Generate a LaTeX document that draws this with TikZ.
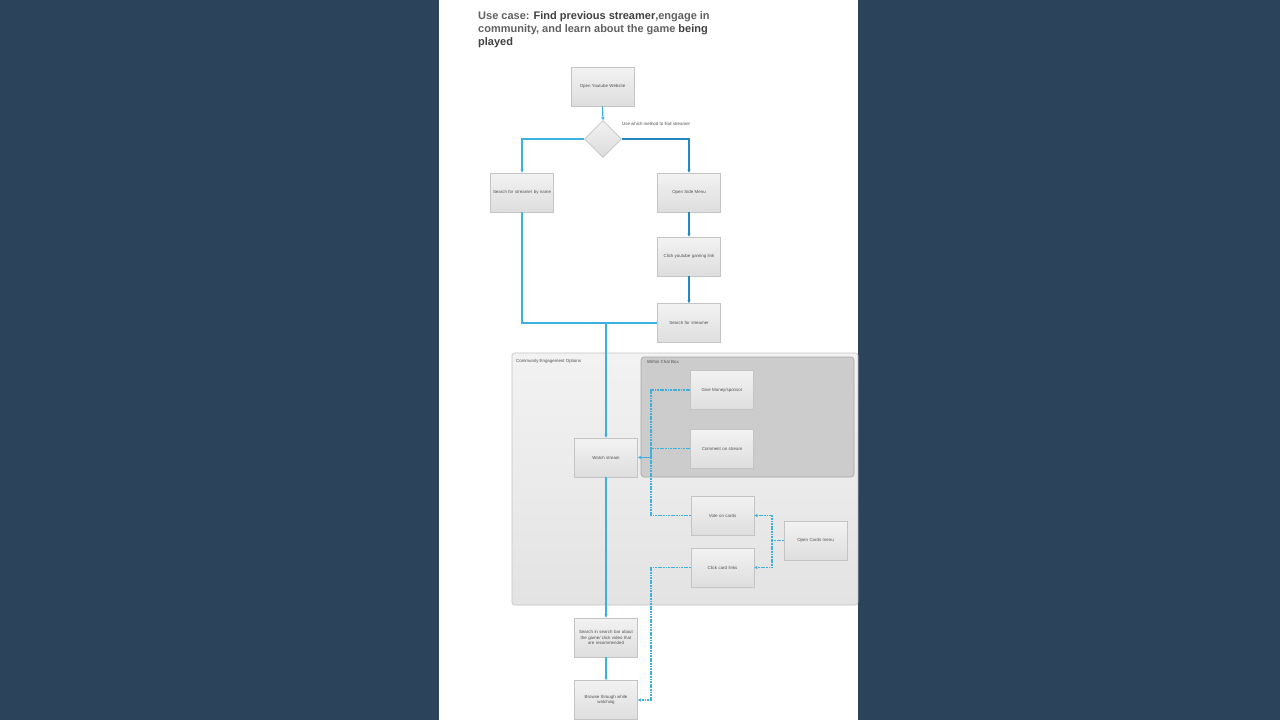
\documentclass[tikz,border=0pt]{standalone}
\usepackage{fontspec}
\setmainfont{Liberation Sans}
\usetikzlibrary{shapes.geometric,arrows.meta,shadows}
\definecolor{navy}{HTML}{2B435B}
\definecolor{lblue}{HTML}{3CB0DE}
\definecolor{dblue}{HTML}{2388C0}
\definecolor{boxline}{HTML}{C4C4C4}
\definecolor{txt}{HTML}{505050}
\tikzset{
  px/.style={x=1pt,y=-1pt},
  stepbox/.style={draw=boxline, line width=0.6pt, top color=white!95!black, bottom color=white!87!black,
    minimum width=63pt, minimum height=39pt, inner sep=1pt, text width=61pt, align=center,
    font=\fontsize{4.4}{5.5}\selectfont, text=txt, drop shadow={shadow xshift=0.6pt, shadow yshift=-0.6pt, opacity=0.25}},
  grouplbl/.style={font=\fontsize{4.4}{5}\selectfont, text=txt, anchor=west, inner sep=0pt},
  flow/.style={draw=lblue, line width=1.2pt, -{Stealth[length=3.4pt,width=3.4pt]}},
  flowd/.style={draw=dblue, line width=1.1pt, -{Stealth[length=3.4pt,width=3.4pt]}},
  flowline/.style={draw=lblue, line width=1.3pt},
  dflow/.style={draw=lblue, line width=1.2pt, dash pattern=on 1.8pt off 0.8pt},
  dtip/.style={-{Stealth[length=3.4pt,width=3.4pt]}},
}
\begin{document}
\begin{tikzpicture}[px]
\useasboundingbox (0,0) rectangle (1280,720);
\fill[navy] (0,0) rectangle (1280,720);
\fill[white] (439,0) rectangle (858,720);

% title
\node[anchor=north west, inner sep=0pt, align=left, text=black!75, font=\fontsize{11}{13}\selectfont\bfseries] (title) at (478,11)
{\textcolor{black!62}{Use case:} Find previous streamer\textcolor{black!62}{,engage in}\\
\textcolor{black!62}{community, and learn about the game} being\\
played};

% groups
\draw[draw=boxline, line width=0.6pt, rounded corners=2.5pt, top color=white!95!black, bottom color=white!89!black] (512,353) rectangle (858,605);
\node[grouplbl] (g1) at (516,361) {Community Engagement Options};
\draw[draw=black!35, line width=0.6pt, rounded corners=3pt, fill=black!20] (641,357) rectangle (854,477);
\node[grouplbl] (g2) at (647,362) {Within Chat Box};

% nodes
\node[stepbox] (open) at (602.5,86.5) {Open Youtube Website};
\node[diamond, draw=boxline, line width=0.6pt, top color=white!95!black, bottom color=white!86!black, minimum width=37pt, minimum height=37pt, inner sep=0pt] (dec) at (603,139) {};
\node[anchor=west, font=\fontsize{4.4}{5}\selectfont, text=txt, inner sep=0pt] (declbl) at (622,124) {Use which method to find streamer};
\node[stepbox] (byname) at (522,192.5) {Search for streamer by name};
\node[stepbox] (side) at (689,192.5) {Open Side Menu};
\node[stepbox] (gaming) at (689,256.5) {Click youtube gaming link};
\node[stepbox] (sfs) at (689,323) {Search for streamer};
\node[stepbox] (money) at (722,390) {Give Money/sponsor};
\node[stepbox] (comment) at (722,448.5) {Comment on stream};
\node[stepbox] (watch) at (606,457.5) {Watch stream};
\node[stepbox] (vote) at (722.5,515.5) {Vote on cards};
\node[stepbox] (cardlinks) at (722.5,567.5) {Click card links};
\node[stepbox] (cards) at (815.5,540.5) {Open Cards menu};
\node[stepbox] (searchbar) at (606,637.5) {Search in search bar about\\the game/ click video that\\are recommended};
\node[stepbox] (browse) at (606,700) {Browse through while\\watching};

% coordinates
\coordinate (merge) at (606,323);
\coordinate (hub) at (651,457.5);
\coordinate (chub) at (772,540.5);
\coordinate (drop) at (651,620);

% connectors
\draw[flow] (open.south) -- (dec.north);
\draw[flow] (dec.west) -| (byname.north);
\draw[flowd] (dec.east) -| (side.north);
\draw[flowd] (side.south) -- (gaming.north);
\draw[flowd] (gaming.south) -- (sfs.north);
\draw[flowline] (byname.south) |- (sfs.west);
\draw[flow] (merge) -- (watch.north);
\draw[flow] (watch.south) -- (searchbar.north);
\draw[flow] (searchbar.south) -- (browse.north);

\draw[dflow] (money.west) -| (hub);
\draw[dflow] (comment.west) -| (hub);
\draw[dflow] (vote.west) -| (hub);
\draw[flow, line width=1.5pt] (hub) -- (watch.east);

\draw[dflow] (cards.west) -- (chub);
\draw[dflow, dtip] (chub) |- (vote.east);
\draw[dflow, dtip] (chub) |- (cardlinks.east);
\draw[dflow, dtip] (cardlinks.west) -| (drop) |- (browse.east);
\end{tikzpicture}
\end{document}
